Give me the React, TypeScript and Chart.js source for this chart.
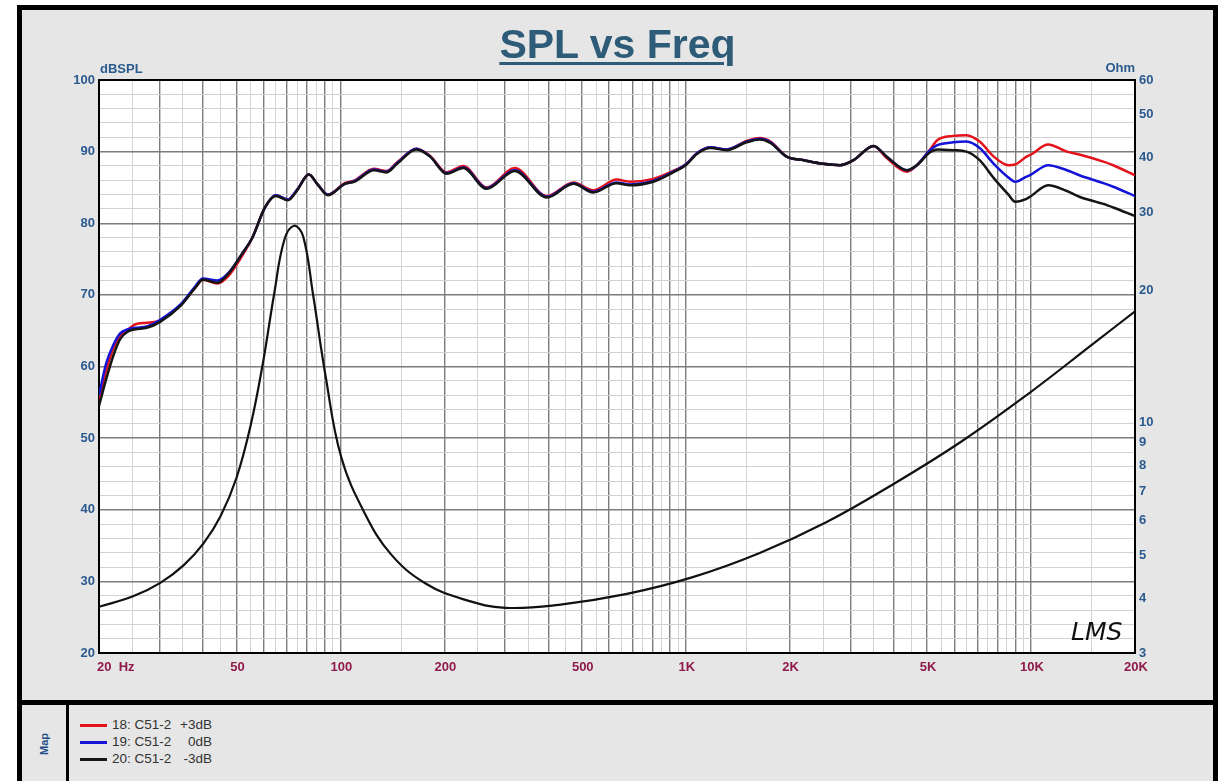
import React, { useEffect, useRef } from 'react';
import { Chart, registerables } from 'chart.js';

Chart.register(...registerables);

// ---- Data ----
const FREQ = [
  20, 21, 22, 23, 24.3, 25.5, 27.5, 30, 34.5, 38,
  40, 44, 47.5, 52, 55.5, 60.5, 65, 70.5, 75, 81,
  86, 92, 103, 110, 125, 136, 146, 166, 182, 203,
  227, 265, 320, 396, 473, 540, 630, 690, 806, 920,
  1000, 1080, 1180, 1315, 1500, 1640, 1760, 1960, 2200, 2500,
  2800, 3060, 3500, 3820, 4370, 4670, 5100, 5350, 5960, 6500,
  7100, 7800, 8600, 9000, 9700, 10000, 11200, 12700, 13800, 16200,
  17300, 20000,
];

const SPL_P3 = [
  55.5, 59.5, 62.5, 64.3, 65.2, 65.9, 66.1, 66.4, 68.6, 71.0,
  72.1, 71.6, 72.7, 75.5, 77.9, 82.2, 83.9, 83.3, 84.7, 86.8,
  85.4, 84.0, 85.6, 86.0, 87.6, 87.3, 88.5, 90.4, 89.4, 87.1,
  88.0, 85.0, 87.7, 83.8, 85.7, 84.6, 86.1, 85.8, 86.2, 87.3,
  88.2, 89.8, 90.6, 90.3, 91.5, 91.9, 91.4, 89.3, 88.8, 88.3,
  88.1, 88.8, 90.8, 89.1, 87.2, 88.1, 90.3, 91.6, 92.2, 92.3,
  91.4, 89.3, 88.1, 88.2, 89.3, 89.6, 91.0, 90.0, 89.6, 88.6,
  88.1, 86.7,
];

const SPL_0 = [
  56.0, 60.5, 63.0, 64.6, 65.2, 65.4, 65.6, 66.5, 68.7, 71.2,
  72.3, 72.0, 73.1, 75.8, 77.9, 82.2, 83.9, 83.3, 84.7, 86.8,
  85.4, 84.0, 85.5, 85.9, 87.5, 87.2, 88.4, 90.4, 89.3, 87.0,
  87.8, 84.9, 87.4, 83.7, 85.6, 84.4, 85.7, 85.4, 85.9, 87.2,
  88.2, 89.8, 90.6, 90.3, 91.4, 91.8, 91.3, 89.3, 88.8, 88.3,
  88.1, 88.8, 90.8, 89.3, 87.4, 88.1, 90.2, 90.9, 91.3, 91.4,
  90.5, 88.3, 86.4, 85.8, 86.5, 86.8, 88.1, 87.4, 86.7, 85.6,
  85.1, 83.8,
];

const SPL_M3 = [
  54.5, 58.3, 61.5, 63.8, 64.9, 65.2, 65.4, 66.2, 68.5, 71.0,
  72.1, 71.7, 73.0, 75.8, 77.9, 82.2, 83.8, 83.2, 84.6, 86.8,
  85.4, 83.9, 85.5, 85.8, 87.4, 87.1, 88.3, 90.3, 89.3, 86.9,
  87.7, 84.8, 87.3, 83.6, 85.5, 84.3, 85.6, 85.3, 85.8, 87.1,
  88.1, 89.7, 90.5, 90.2, 91.3, 91.7, 91.2, 89.3, 88.8, 88.3,
  88.1, 88.8, 90.8, 89.3, 87.4, 88.1, 89.9, 90.3, 90.2, 90.0,
  88.8, 86.3, 84.0, 83.0, 83.4, 83.8, 85.3, 84.5, 83.7, 82.7,
  82.2, 81.0,
];

const IMP_FREQ = [
  20, 25.2, 30.1, 35.2, 40.2, 45, 50, 55, 59.6, 64.3,
  68.8, 73.5, 78, 83.3, 90.7, 100.5, 117.6, 140,
  176, 230, 300, 429, 670, 1048, 1638, 2560, 4000, 6256,
  9775, 15280, 20000,
];

const IMP_OHM = [
  3.82, 4.04, 4.33, 4.75, 5.33, 6.14, 7.49, 9.88, 13.6, 19.6,
  26.0, 28.0, 26.5, 19.6, 12.7, 8.37, 6.23, 5.03,
  4.32, 3.96, 3.80, 3.86, 4.08, 4.46, 5.06, 5.95, 7.26, 9.04,
  11.6, 15.2, 17.9,
];

const X_LABEL_VALUES = [20, 50, 100, 200, 500, 1000, 2000, 5000, 10000, 20000];
const X_LABEL_TEXT = ['20  Hz', '50', '100', '200', '500', '1K', '2K', '5K', '10K', '20K'];
const OHM_TICKS = [3, 4, 5, 6, 7, 8, 9, 10, 20, 30, 40, 50, 60];
const SERIES_NAMES = ['18: C51-2', '19: C51-2', '20: C51-2'];
const SERIES_SUFFIX = ['+3dB', '0dB', '-3dB'];
const SERIES_COLORS = ['#e3121b', '#1414d8', '#151515'];

// ---- Styling ----
const FONT = '"Liberation Sans", Arial, Helvetica, sans-serif';
const AXIS_BLUE = '#2b5a8e';
const X_RED = '#8f1a4c';
const GRID_DARK = '#7c7c7c';
const GRID_LIGHT = '#d2d2d2';

function buildGridFreqs(): number[] {
  const out: number[] = [];
  for (const d of [10, 100, 1000, 10000]) {
    for (let m = 1; m <= 10.001; m += 0.5) {
      const v = Math.round(m * d * 10) / 10;
      if (v >= 20 && v <= 20000 && !out.includes(v)) out.push(v);
    }
  }
  return out;
}
const GRID_FREQS = buildGridFreqs();

function isMajorFreq(v: number | undefined): boolean {
  if (v === undefined || v <= 0) return false;
  const m = v / Math.pow(10, Math.floor(Math.log10(v) + 1e-9));
  return Math.abs(m - Math.round(m)) < 1e-6;
}

const decorPlugin = {
  id: 'decor',
  beforeDraw(chart: any) {
    const { ctx, chartArea: a } = chart;
    ctx.save();
    ctx.fillStyle = '#ffffff';
    ctx.fillRect(a.left, a.top, a.right - a.left, a.bottom - a.top);
    ctx.restore();
  },
  beforeDatasetsDraw(chart: any) {
    const { ctx, chartArea: a } = chart;
    ctx.save();
    ctx.strokeStyle = '#000';
    ctx.lineWidth = 2;
    ctx.strokeRect(a.left, a.top, a.right - a.left, a.bottom - a.top);
    ctx.restore();
  },
  afterDraw(chart: any) {
    const { ctx, chartArea: a } = chart;
    const xs = chart.scales.x;
    ctx.save();
    ctx.font = `bold 13px ${FONT}`;
    ctx.fillStyle = X_RED;
    ctx.textBaseline = 'middle';
    X_LABEL_VALUES.forEach((v, i) => {
      const px = xs.getPixelForValue(v);
      if (i === 0) {
        ctx.textAlign = 'left';
        ctx.fillText(X_LABEL_TEXT[i], px - 2, a.bottom + 14);
      } else {
        ctx.textAlign = 'center';
        ctx.fillText(X_LABEL_TEXT[i], px + 1, a.bottom + 14);
      }
    });
    ctx.fillStyle = AXIS_BLUE;
    ctx.textAlign = 'left';
    ctx.fillText('dBSPL', a.left + 1, a.top - 11);
    ctx.textAlign = 'right';
    ctx.fillText('Ohm', a.right, a.top - 12);
    ctx.fillStyle = '#111';
    ctx.textAlign = 'left';
    ctx.font = `oblique 25px "DejaVu Sans", sans-serif`;
    ctx.fillText('LMS', a.right - 64, a.bottom - 20);
    ctx.restore();
  },
};

export default function App() {
  const ref = useRef<HTMLCanvasElement>(null);

  useEffect(() => {
    if (!ref.current) return;
    const mk = (vals: number[]) => FREQ.map((f, i) => ({ x: f, y: vals[i] }));
    const chart = new Chart(ref.current, {
      type: 'line',
      data: {
        datasets: [
          {
            label: '20: C51-2 -3dB',
            data: mk(SPL_M3),
            borderColor: SERIES_COLORS[2],
            borderWidth: 2.5,
            yAxisID: 'y',
            cubicInterpolationMode: 'monotone',
            order: 0,
          },
          {
            label: '19: C51-2 0dB',
            data: mk(SPL_0),
            borderColor: SERIES_COLORS[1],
            borderWidth: 2.5,
            yAxisID: 'y',
            cubicInterpolationMode: 'monotone',
            order: 1,
          },
          {
            label: '18: C51-2 +3dB',
            data: mk(SPL_P3),
            borderColor: SERIES_COLORS[0],
            borderWidth: 2.5,
            yAxisID: 'y',
            cubicInterpolationMode: 'monotone',
            order: 2,
          },
          {
            label: 'Impedance',
            data: IMP_FREQ.map((f, i) => ({ x: f, y: IMP_OHM[i] })),
            borderColor: '#111',
            borderWidth: 2.2,
            yAxisID: 'yR',
            tension: 0.4,
            order: 3,
          },
        ],
      } as any,
      options: {
        animation: false,
        responsive: false,
        maintainAspectRatio: false,
        layout: { padding: { left: 59, right: 52, top: 80, bottom: 23 } },
        elements: { point: { radius: 0 } },
        plugins: {
          legend: { display: false },
          tooltip: { enabled: false },
          title: { display: false },
        },
        scales: {
          x: {
            type: 'logarithmic',
            min: 20,
            max: 20000,
            afterBuildTicks: (s: any) => {
              s.ticks = GRID_FREQS.map((v) => ({ value: v }));
            },
            afterFit: (s: any) => {
              s.height = 30;
            },
            ticks: { display: false, autoSkip: false },
            grid: {
              drawTicks: false,
              color: (c: any) => (isMajorFreq(c.tick?.value) ? GRID_DARK : GRID_LIGHT),
              lineWidth: (c: any) => (isMajorFreq(c.tick?.value) ? 1.4 : 1),
            },
            border: { display: false },
          },
          y: {
            type: 'linear',
            position: 'left',
            min: 20,
            max: 100,
            afterFit: (s: any) => {
              s.width = 40;
            },
            ticks: {
              stepSize: 2,
              autoSkip: false,
              padding: 4,
              color: AXIS_BLUE,
              font: { family: FONT, size: 13, weight: 'bold' },
              callback: (v: any) => (Number(v) % 10 === 0 ? String(v) : ''),
            },
            grid: {
              drawTicks: false,
              color: (c: any) => (c.tick && c.tick.value % 10 === 0 ? GRID_DARK : GRID_LIGHT),
              lineWidth: (c: any) => (c.tick && c.tick.value % 10 === 0 ? 1.4 : 1),
            },
            border: { display: false },
          },
          yR: {
            type: 'logarithmic',
            position: 'right',
            min: 3,
            max: 60,
            afterBuildTicks: (s: any) => {
              s.ticks = OHM_TICKS.map((v) => ({ value: v }));
            },
            afterFit: (s: any) => {
              s.width = 40;
            },
            ticks: {
              autoSkip: false,
              padding: 4,
              color: AXIS_BLUE,
              font: { family: FONT, size: 13, weight: 'bold' },
              callback: (v: any) => String(v),
            },
            grid: { display: false, drawTicks: false },
            border: { display: false },
          },
        },
      } as any,
      plugins: [decorPlugin],
    });
    return () => chart.destroy();
  }, []);

  return (
    <div
      style={{
        position: 'absolute',
        left: 0,
        top: 0,
        width: 1227,
        height: 781,
        background: '#ffffff',
        overflow: 'hidden',
        fontFamily: FONT,
      }}
    >
      <div
        style={{
          position: 'absolute',
          left: 17,
          top: 5,
          width: 1201,
          height: 701,
          border: '5px solid #000',
          background: '#e6e6e6',
          boxSizing: 'border-box',
        }}
      />
      <div
        style={{
          position: 'absolute',
          left: 17,
          top: 700,
          width: 1201,
          height: 130,
          border: '5px solid #000',
          background: '#e6e6e6',
          boxSizing: 'border-box',
        }}
      />
      <div style={{ position: 'absolute', left: 66, top: 704, width: 3, height: 90, background: '#000' }} />
      <div
        style={{
          position: 'absolute',
          left: 22,
          width: 44,
          top: 736,
          height: 16,
          lineHeight: '16px',
          textAlign: 'center',
          fontSize: 11,
          fontWeight: 'bold',
          color: '#1f4e89',
          transform: 'rotate(-90deg)',
        }}
      >
        Map
      </div>
      {SERIES_NAMES.map((name, i) => {
        const cy = 725 + 17 * i;
        return (
          <React.Fragment key={name + i}>
            <div
              style={{
                position: 'absolute',
                left: 80,
                top: cy - 1.5,
                width: 27,
                height: 3,
                background: SERIES_COLORS[i],
              }}
            />
            <div
              style={{
                position: 'absolute',
                left: 112,
                top: cy - 8,
                height: 16,
                lineHeight: '16px',
                fontSize: 13.5,
                color: '#333',
                whiteSpace: 'nowrap',
              }}
            >
              {name}
            </div>
            <div
              style={{
                position: 'absolute',
                left: 112,
                width: 100,
                top: cy - 8,
                height: 16,
                lineHeight: '16px',
                fontSize: 13.5,
                color: '#333',
                textAlign: 'right',
                whiteSpace: 'nowrap',
              }}
            >
              {SERIES_SUFFIX[i]}
            </div>
          </React.Fragment>
        );
      })}
      <canvas
        ref={ref}
        width={1227}
        height={706}
        style={{ position: 'absolute', left: 0, top: 0, width: 1227, height: 706 }}
      />
      <div
        style={{
          position: 'absolute',
          left: 0,
          top: 21,
          width: 1235,
          textAlign: 'center',
          fontSize: 41,
          lineHeight: '46px',
          fontWeight: 'bold',
          color: '#2e5b78',
          textDecoration: 'underline',
          textDecorationThickness: '3px',
          textUnderlineOffset: '4px',
          pointerEvents: 'none',
        }}
      >
        SPL vs Freq
      </div>
    </div>
  );
}
